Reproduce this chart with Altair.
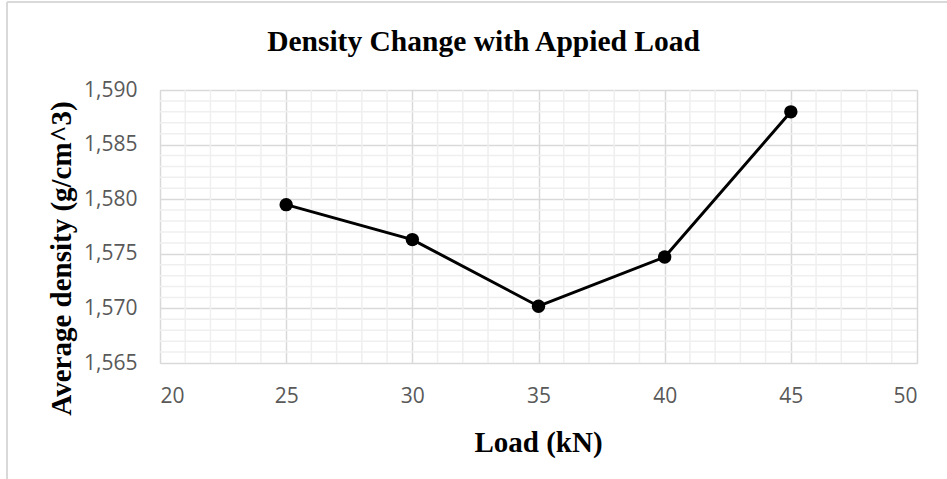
import altair as alt
import pandas as pd

# data
load_kn = [25, 30, 35, 40, 45]
avg_density = [1.5795, 1.5763, 1.5702, 1.5747, 1.5880]

x_major = [20, 25, 30, 35, 40, 45, 50]
y_major = [1.565, 1.570, 1.575, 1.580, 1.585, 1.590]
x_minor = [v for v in range(20, 51) if v % 5 != 0]
y_minor = [round(1.565 + i * 0.001, 3) for i in range(26) if i % 5 != 0]

df = pd.DataFrame({"load": load_kn, "density": avg_density})
df_xm = pd.DataFrame({"x": x_minor})
df_ym = pd.DataFrame({"y": y_minor})

W, H = 757, 273
xs = alt.Scale(domain=[20, 50], nice=False, zero=False)
ys = alt.Scale(domain=[1.565, 1.590], nice=False, zero=False)

minor_col = "#efefef"
major_col = "#d9d9d9"

xminor = alt.Chart(df_xm).mark_rule(color=minor_col, strokeWidth=1.5).encode(
    x=alt.X("x:Q", scale=xs)
)
yminor = alt.Chart(df_ym).mark_rule(color=minor_col, strokeWidth=1.5).encode(
    y=alt.Y("y:Q", scale=ys)
)

base = alt.Chart(df).encode(
    x=alt.X(
        "load:Q",
        scale=xs,
        axis=alt.Axis(
            values=x_major,
            title="Load (kN)",
            titleFont="Liberation Serif",
            titleFontSize=29,
            titleFontWeight="bold",
            titleColor="black",
            titleX=378,
            titleY=88,
            titleAlign="center",
            titleBaseline="alphabetic",
            labelFont="Open Sans",
            labelFontSize=21,
            labelColor="#595959",
            labelPadding=22,
            ticks=False,
            domain=False,
            grid=True,
            gridColor=major_col,
            gridWidth=1.5,
        ),
    ),
    y=alt.Y(
        "density:Q",
        scale=ys,
        axis=alt.Axis(
            values=y_major,
            labelExpr="replace(format(datum.value, '.3f'), '.', ',')",
            title="Average density (g/cm^3)",
            titleFont="Liberation Serif",
            titleFontSize=29,
            titleFontWeight="bold",
            titleColor="black",
            titleAngle=270,
            titleX=-90,
            titleY=168,
            titleAlign="center",
            titleBaseline="alphabetic",
            labelFont="Open Sans",
            labelFontSize=21,
            labelColor="#595959",
            labelPadding=23,
            ticks=False,
            domain=False,
            grid=True,
            gridColor=major_col,
            gridWidth=1.5,
        ),
    ),
)

line = base.mark_line(color="black", strokeWidth=3)
pts = base.mark_point(filled=True, color="black", size=180, opacity=1)

# outer chart-area border (decoration)
border_top = alt.Chart(df).mark_rule(color="#d9d9d9", strokeWidth=2).encode(
    x=alt.value(-153), x2=alt.value(800), y=alt.value(-88)
)
border_left = alt.Chart(df).mark_rule(color="#d9d9d9", strokeWidth=2).encode(
    x=alt.value(-153), y=alt.value(-88), y2=alt.value(400)
)

chart = alt.layer(xminor, yminor, line, pts, border_top, border_left).properties(
    width=W,
    height=H,
    title=alt.TitleParams(
        "Density Change with Appied Load",
        font="Liberation Serif",
        fontSize=29.5,
        fontWeight="bold",
        color="black",
        anchor="middle",
        dx=-55,
        offset=-79,
        baseline="alphabetic",
    ),
    padding={"left": 160, "top": 90, "right": 30, "bottom": 116},
    autosize=alt.AutoSizeParams(type="none"),
).configure_view(stroke=major_col, strokeWidth=1.5).configure(background="white")

chart.save("out.html", embed_options={"renderer": "svg", "actions": False})
